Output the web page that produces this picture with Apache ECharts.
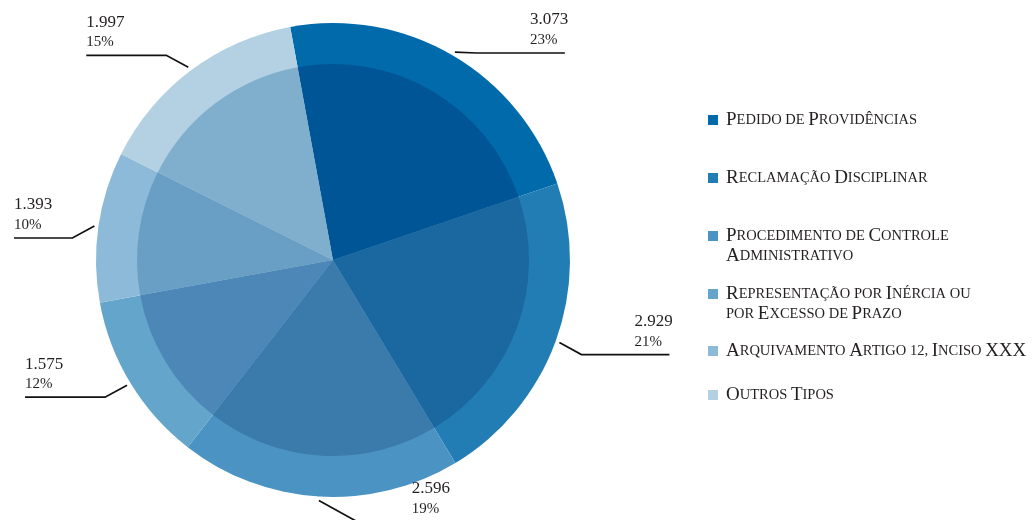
<!DOCTYPE html>
<html><head><meta charset="utf-8">
<script src="https://cdn.jsdelivr.net/npm/echarts@6/dist/echarts.min.js"></script>
<style>html,body{margin:0;padding:0;background:#fff}#c{width:1034px;height:520px}</style>
</head><body><div id="c"></div>
<script>
// ---- data ----
const categories = [
  'Pedido de Providências',
  'Reclamação Disciplinar',
  'Procedimento de Controle Administrativo',
  'Representação por Inércia ou por Excesso de Prazo',
  'Arquivamento Artigo 12, Inciso XXX',
  'Outros Tipos'
];
const values = [3073, 2929, 2596, 1575, 1393, 1997];
const legendText = [
  'Pedido de Providências',
  'Reclamação Disciplinar',
  'Procedimento de Controle\nAdministrativo',
  'Representação por Inércia ou\npor Excesso de Prazo',
  'Arquivamento Artigo 12, Inciso XXX',
  'Outros Tipos'
];

// ---- style ----
const outerColors = ['#006aab', '#237db5', '#4a93c3', '#63a5cb', '#8ebad9', '#b3d1e3'];
const innerColors = ['#005596', '#1b67a0', '#3a7bab', '#4c87b7', '#6a9fc5', '#80aecd'];
const CX = 333, CY = 260, R_OUT = 237, R_IN = 196, START = 100.4;
const legendCenters = [120, 178, 236, 294, 351, 395];
const FONT = "'Liberation Serif', 'DejaVu Serif', serif";
const TXT = '#231f20';

function fmtThousands(v) { return String(v).replace(/\B(?=(\d{3})+(?!\d))/g, '.'); }
function smallCaps(line) {
  let out = '', cur = '', curType = null;
  for (const ch of line) {
    const isBig = ch !== ch.toLowerCase();
    const t = isBig ? 'b' : 's';
    if (t !== curType) { if (cur) out += '{' + curType + '|' + cur + '}'; cur = ''; curType = t; }
    cur += isBig ? ch : ch.toUpperCase();
  }
  if (cur) out += '{' + curType + '|' + cur + '}';
  return out;
}
const total = values.reduce((a, b) => a + b, 0);
function midAngle(i) {
  let cum = 0; for (let k = 0; k < i; k++) cum += values[k];
  return (START - 360 * (cum + values[i] / 2) / total) * Math.PI / 180;
}

const chart = echarts.init(document.getElementById('c'), null, { renderer: 'canvas' });

const legends = categories.map((name, i) => {
  const n = legendText[i].split('\n').length;
  const padTop = (n - 1) * 20;
  const boxH = n * 20 + padTop;
  return {
    data: [name],
    left: 708,
    top: legendCenters[i] - boxH / 2,
    orient: 'vertical',
    padding: 0,
    itemWidth: 10,
    itemHeight: 10,
    icon: 'rect',
    selectedMode: false,
    formatter: nm => legendText[categories.indexOf(nm)].split('\n').map(smallCaps).join('\n'),
    textStyle: {
      padding: [padTop, 0, 0, 3],
      lineHeight: 20,
      rich: {
        b: { fontSize: 19, fontFamily: FONT, color: TXT, lineHeight: 20 },
        s: { fontSize: 14.5, fontFamily: FONT, color: TXT, lineHeight: 20 }
      }
    }
  };
});

const pieData = (colors) => categories.map((c, i) => ({ name: c, value: values[i], itemStyle: { color: colors[i] } }));

chart.setOption({
  animation: false,
  backgroundColor: '#ffffff',
  legend: legends,
  series: [
    {
      type: 'pie',
      center: [CX, CY],
      radius: [0, R_OUT],
      startAngle: START,
      clockwise: true,
      percentPrecision: 0,
      avoidLabelOverlap: false,
      data: pieData(outerColors),
      itemStyle: { borderWidth: 0 },
      emphasis: { scale: false },
      label: {
        show: true,
        position: 'outside',
        overflow: 'none',
        bleedMargin: 0,
        formatter: p => '{v|' + fmtThousands(p.value) + '}\n{p|' + p.percent + '%}',
        rich: {
          v: { fontSize: 17, lineHeight: 20, fontFamily: FONT, color: TXT },
          p: { fontSize: 15, lineHeight: 20, fontFamily: FONT, color: TXT }
        }
      },
      labelLine: { show: true, length: 10, length2: 10, lineStyle: { color: '#111', width: 1.7 } },
      labelLayout: function (p) {
        const a = midAngle(p.dataIndex);
        const cos = Math.cos(a), sin = Math.sin(a);
        const x0 = CX + (R_OUT + 4) * cos, y0 = CY - (R_OUT + 4) * sin;
        const right = cos > -0.1;
        const up = sin > 0.3;
        const steep = Math.abs(cos) < 0.3;
        const sx = steep ? 40 : 22, sy = steep ? 22 : 12;
        const x1 = x0 + (right ? sx : -sx);
        let y1 = y0 + (up ? -sy : sy);
        if (y1 < 53) y1 = 53;
        const x2 = right ? x1 + 88 : Math.max(x1 - 80, 14);
        return {
          x: right ? x2 - 35 : x2,
          y: Math.min(y1, 522) - 3,
          align: 'left',
          verticalAlign: 'bottom',
          labelLinePoints: [[x0, y0], [x1, y1], [x2, y1]]
        };
      }
    },
    {
      type: 'pie',
      center: [CX, CY],
      radius: [0, R_IN],
      startAngle: START,
      clockwise: true,
      silent: true,
      data: pieData(innerColors),
      itemStyle: { borderWidth: 0 },
      label: { show: false },
      labelLine: { show: false },
      emphasis: { disabled: true }
    }
  ]
});
</script>
</body></html>
